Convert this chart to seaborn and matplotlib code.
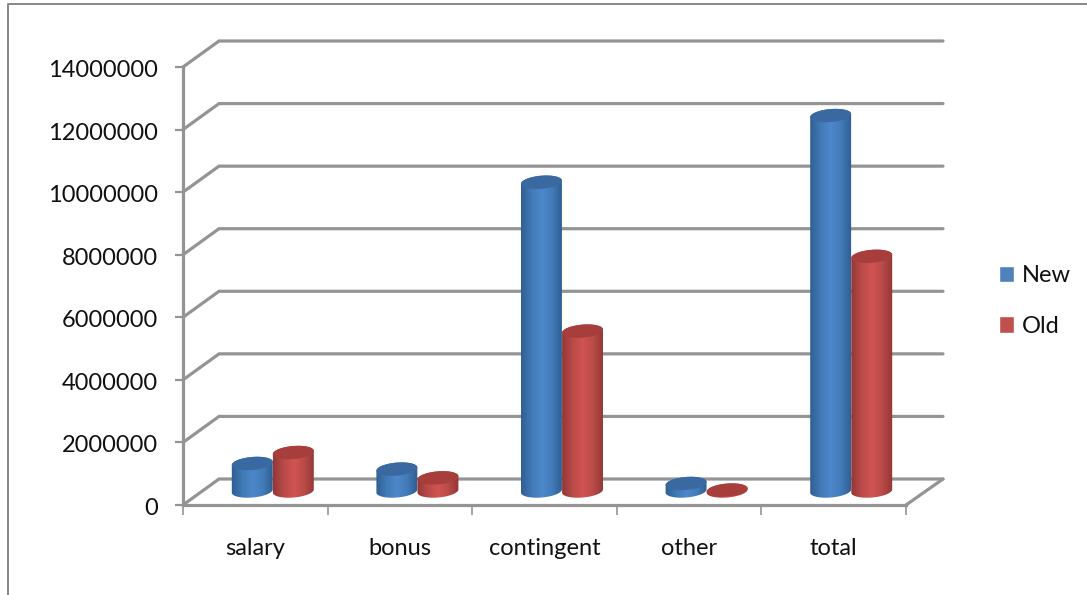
import numpy as np
import pandas as pd
import matplotlib
matplotlib.use("Agg")
import matplotlib.pyplot as plt
import seaborn as sns
from matplotlib.colors import LinearSegmentedColormap
from matplotlib.lines import Line2D
from matplotlib.patches import PathPatch, Rectangle
from matplotlib.path import Path
from matplotlib.transforms import Affine2D, IdentityTransform

categories = ["salary", "bonus", "contingent", "other", "total"]
new_values = [880000, 700000, 9870000, 240000, 12000000]
old_values = [1230000, 420000, 5110000, 30000, 7500000]
y_ticks = [0, 2000000, 4000000, 6000000, 8000000, 10000000, 12000000, 14000000]

GREY = "#949494"
SERIES_COLORS = {"New": "#4f81bd", "Old": "#c0504d"}
BODY_STOPS = {
    "New": ["#2f5c90", "#4079b4", "#4f88cb", "#417ab6", "#2d5a8d"],
    "Old": ["#8f3634", "#b84a48", "#d05452", "#b84a48", "#8d3533"],
}
CAP_COLORS = {"New": "#3a69a2", "Old": "#a83e3c"}

W, H = 1087, 595
FONT_SIZE = 17
sns.set_theme(style="white")
plt.rcParams["font.family"] = ["Lato", "DejaVu Sans"]

fig = plt.figure(figsize=(W / 100, H / 100), dpi=100, facecolor="white")
left, right, top, bottom = 183, 906, 67, 505
ax = fig.add_axes([left / W, 1 - bottom / H, (right - left) / W, (bottom - top) / H])

frame = pd.DataFrame({
    "category": categories * 2,
    "amount": new_values + old_values,
    "series": ["New"] * 5 + ["Old"] * 5,
})
sns.barplot(data=frame, x="category", y="amount", hue="series", palette=SERIES_COLORS,
            width=0.568, gap=0, saturation=1, ax=ax)

ax.set_xlim(-0.5, 4.5)
ax.set_ylim(0, 14000000)
ax.set_autoscale_on(False)
ax.set_xlabel("")
ax.set_ylabel("")
ax.set_yticks(y_ticks)
ax.set_yticklabels([str(v) for v in y_ticks])
ax.set_xticks(range(5))
ax.set_xticklabels(categories)
ax.set_xticks(np.arange(-0.5, 5.0, 1.0), minor=True)
ax.tick_params(axis="x", which="major", length=0, pad=24, labelsize=FONT_SIZE, labelcolor="#111111")
ax.tick_params(axis="x", which="minor", bottom=True, length=7, width=1.2, color=GREY)
ax.tick_params(axis="y", which="major", left=True, length=6, width=1.6, color=GREY,
               pad=12, labelsize=FONT_SIZE, labelcolor="#111111")
for label in ax.get_yticklabels():
    label.set_transform(label.get_transform() + Affine2D().translate(0, -1.5))
sns.despine(ax=ax)
for side in ("left", "bottom"):
    ax.spines[side].set_color(GREY)
    ax.spines[side].set_linewidth(2.3)
ax.patch.set_alpha(0)

# Legend is taken from the bar handles, then placed in the right margin
handles, labels = ax.get_legend_handles_labels()
ax.legend(handles, labels, loc="center left", bbox_to_anchor=(978 / W, 1 - 301 / H),
          bbox_transform=fig.transFigure, frameon=False, fontsize=FONT_SIZE, handlelength=0.64,
          handleheight=0.7, handletextpad=0.3, labelspacing=1.25, labelcolor="#111111")


def to_px(x, y):
    return ax.transData.transform((x, y))


# Back wall and floor of the 3D box, offset from the front plane in pixels
DX, DY = 36, 26
for value in y_ticks:
    x0, y0 = to_px(-0.5, value)
    x1, _ = to_px(4.5, value)
    line = Line2D([x0, x0 + DX, x1 + DX + 1], [y0, y0 + DY, y0 + DY], transform=IdentityTransform(),
                  color=GREY, lw=2.3, solid_joinstyle="miter", clip_on=False, zorder=1)
    ax.add_line(line)
x1, y0 = to_px(4.5, 0)
ax.add_line(Line2D([x1, x1 + DX + 1], [y0, y0 + DY], transform=IdentityTransform(), color=GREY,
                   lw=2.3, clip_on=False, zorder=1))

# Each flat bar from the bar plot becomes a shaded cylinder standing mid-way into the box
TILT = np.deg2rad(5)
SEMI_MINOR = 6.5


def ellipse_points(cx, cy, a, start, stop):
    t = np.deg2rad(np.linspace(start, stop, 60))
    ex, ey = a * np.cos(t), SEMI_MINOR * np.sin(t)
    return np.column_stack((cx + ex * np.cos(TILT) - ey * np.sin(TILT),
                            cy + ex * np.sin(TILT) + ey * np.cos(TILT)))


bars = [p for p in ax.patches if isinstance(p, Rectangle) and p.get_width() > 0]
series_of_bar = ["New"] * 5 + ["Old"] * 5
shaded = sorted(zip(bars, series_of_bar), key=lambda item: item[0].get_x())
for order, (bar, series) in enumerate(shaded):
    xa, ya = to_px(bar.get_x(), 0)
    xb, yb = to_px(bar.get_x() + bar.get_width(), bar.get_height())
    bar.set_visible(False)
    xa, xb = xa + 17.5, xb + 17.5
    ya, yb = ya + 14, yb + 14
    cx, a = (xa + xb) / 2, (xb - xa) / 2
    outline = np.vstack((ellipse_points(cx, ya, a, 180, 360), ellipse_points(cx, yb, a, 0, 180)))
    clip = PathPatch(Path(np.vstack((outline, outline[:1]))), transform=IdentityTransform(),
                     facecolor="none", edgecolor="none")
    ax.add_patch(clip)
    cmap = LinearSegmentedColormap.from_list(series, BODY_STOPS[series])
    im = ax.imshow(np.linspace(0, 1, 64)[None, :], cmap=cmap, aspect="auto", interpolation="bilinear",
                   extent=(xa - 1, xb + 1, ya - 12, yb + 12), transform=IdentityTransform(),
                   zorder=3 + order * 0.1)
    im.set_clip_path(clip)
    cap = PathPatch(Path(ellipse_points(cx, yb, a, 0, 360)), transform=IdentityTransform(),
                    facecolor=CAP_COLORS[series], edgecolor="none", zorder=3.05 + order * 0.1)
    ax.add_patch(cap)
ax.set_xlim(-0.5, 4.5)
ax.set_ylim(0, 14000000)

# Chart frame: only the top and left edges fall inside the image
fig.add_artist(Line2D([7.5 / W, 7.5 / W, 1], [0, 1 - 4 / H, 1 - 4 / H], transform=fig.transFigure,
                      color="#868686", lw=1.4))

fig.savefig("out.png", dpi=100)
